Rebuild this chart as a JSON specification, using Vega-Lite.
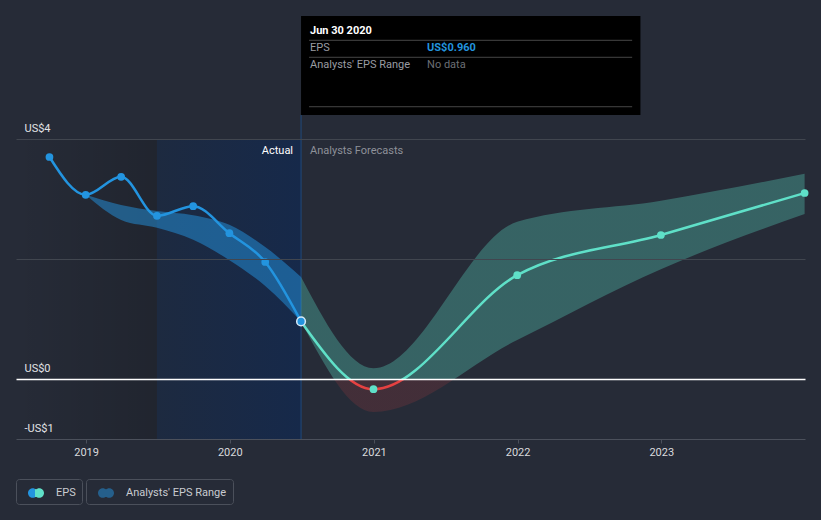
{
  "$schema": "https://vega.github.io/schema/vega-lite/v6.json",
  "width": 789,
  "height": 439,
  "autosize": "none",
  "padding": {"left": 16, "right": 16, "top": 0, "bottom": 81},
  "background": "#262b37",
  "config": {"view": {"stroke": null}, "font": "Roboto"},
  "datasets": {
    "regions": [
      {"date": "2018-07-07", "end": "2019-06-30", "zone": "past"},
      {"date": "2019-06-30", "end": "2020-06-30", "zone": "last"}
    ],
    "actual": [
      {"date": "2018-09-30", "eps": 3.70},
      {"date": "2018-12-31", "eps": 3.07},
      {"date": "2019-03-31", "eps": 3.37},
      {"date": "2019-06-30", "eps": 2.72},
      {"date": "2019-09-30", "eps": 2.88},
      {"date": "2019-12-31", "eps": 2.43},
      {"date": "2020-03-31", "eps": 1.95},
      {"date": "2020-06-30", "eps": 0.96}
    ],
    "pastRange": [
      {"date": "2018-12-31", "low": 3.07, "high": 3.07},
      {"date": "2019-03-31", "low": 2.65, "high": 2.90},
      {"date": "2019-06-30", "low": 2.52, "high": 2.80},
      {"date": "2019-09-30", "low": 2.32, "high": 2.73},
      {"date": "2019-12-31", "low": 1.98, "high": 2.57},
      {"date": "2020-03-31", "low": 1.55, "high": 2.20},
      {"date": "2020-06-30", "low": 0.96, "high": 1.70}
    ],
    "forecast": [
      {"date": "2020-06-30", "eps": 0.96, "low": 0.96, "high": 1.70},
      {"date": "2020-12-31", "eps": -0.17, "low": -0.55, "high": 0.18},
      {"date": "2021-12-31", "eps": 1.73, "low": 0.65, "high": 2.62},
      {"date": "2022-12-31", "eps": 2.40, "low": 1.83, "high": 2.97},
      {"date": "2023-12-31", "eps": 3.10, "low": 2.75, "high": 3.42}
    ],
    "tip": [
      {"date": "2020-06-30", "eps": 0.96, "title": "Jun 30 2020", "epsText": "US$0.960", "rangeText": "No data"}
    ]
  },
  "layer": [
    {
      "data": {"name": "regions"},
      "transform": [{"filter": "datum.zone === 'past'"}],
      "mark": {"type": "rect", "fill": {"gradient": "linear", "x1": 0, "y1": 0, "x2": 1, "y2": 0, "stops": [{"offset": 0, "color": "rgba(0,0,0,0)"}, {"offset": 1, "color": "rgba(0,0,0,0.15)"}]}},
      "encoding": {
        "x": {"field": "date", "type": "temporal", "scale": {"type": "utc", "domain": [{"year": 2018, "month": 7, "date": 7, "utc": true}, {"year": 2024, "month": 1, "date": 1, "utc": true}]}},
        "x2": {"field": "end"},
        "y": {"datum": -1, "type": "quantitative", "scale": {"domain": [-1, 6.3167], "nice": false, "zero": false}},
        "y2": {"datum": 4}
      }
    },
    {
      "data": {"name": "regions"},
      "transform": [{"filter": "datum.zone === 'last'"}],
      "mark": {"type": "rect", "fill": {"gradient": "linear", "x1": 0, "y1": 0, "x2": 1, "y2": 0, "stops": [{"offset": 0, "color": "#1d2a40"}, {"offset": 1, "color": "#16294a"}]}},
      "encoding": {
        "x": {"field": "date", "type": "temporal", "scale": {"type": "utc", "domain": [{"year": 2018, "month": 7, "date": 7, "utc": true}, {"year": 2024, "month": 1, "date": 1, "utc": true}]}},
        "x2": {"field": "end"},
        "y": {"datum": -1, "type": "quantitative", "scale": {"domain": [-1, 6.3167], "nice": false, "zero": false}},
        "y2": {"datum": 4}
      }
    },
    {
      "data": {"name": "tip"},
      "mark": {"type": "rule", "color": "#1f4a7c", "strokeWidth": 1},
      "encoding": {
        "x": {"field": "date", "type": "temporal", "scale": {"type": "utc", "domain": [{"year": 2018, "month": 7, "date": 7, "utc": true}, {"year": 2024, "month": 1, "date": 1, "utc": true}]}},
        "y": {"datum": -1, "type": "quantitative", "scale": {"domain": [-1, 6.3167], "nice": false, "zero": false}},
        "y2": {"datum": 4.4}
      }
    },
    {
      "data": {"name": "pastRange"},
      "mark": {"type": "area", "interpolate": "monotone", "color": "#2394df"},
      "encoding": {
        "x": {"field": "date", "type": "temporal", "scale": {"type": "utc", "domain": [{"year": 2018, "month": 7, "date": 7, "utc": true}, {"year": 2024, "month": 1, "date": 1, "utc": true}]}},
        "y": {"field": "high", "type": "quantitative", "scale": {"domain": [-1, 6.3167], "nice": false, "zero": false}},
        "y2": {"field": "low"},
        "opacity": {
          "datum": "Analysts' EPS Range",
          "type": "nominal",
          "scale": {"type": "ordinal", "range": [0.5]},
          "legend": {
            "title": null, "orient": "none", "legendX": 70, "legendY": 479,
            "strokeColor": "#4b505b", "cornerRadius": 3, "padding": 6,
            "symbolType": "M -1 0 A 0.6 0.6 0 1 0 0.2 0 A 0.6 0.6 0 1 0 -1 0 Z M -0.2 0 A 0.6 0.6 0 1 0 1 0 A 0.6 0.6 0 1 0 -0.2 0 Z",
            "symbolSize": 256, "symbolOffset": 6, "labelOffset": 12, "symbolStrokeWidth": 0,
            "symbolStrokeColor": "transparent",
            "labelFont": "Roboto", "labelFontSize": 11, "labelColor": "#c9cbd1",
            "encode": {"symbols": {"update": {
              "fill": {"value": {"gradient": "linear", "x1": 0, "y1": 0, "x2": 1, "y2": 0, "stops": [{"offset": 0, "color": "#2394df"}, {"offset": 0.42, "color": "#2394df"}, {"offset": 0.42, "color": "#5fe0c8"}, {"offset": 1, "color": "#5fe0c8"}]}},
              "stroke": {"value": "transparent"}
            }}}
          }
        }
      }
    },
    {
      "data": {"name": "forecast"},
      "mark": {"type": "area", "interpolate": "monotone", "opacity": 1, "fill": {"gradient": "linear", "x1": 0, "y1": 0, "x2": 0, "y2": 1, "stops": [{"offset": 0, "color": "rgba(93,229,204,0.3)"}, {"offset": 0.8615, "color": "rgba(93,229,204,0.3)"}, {"offset": 0.8615, "color": "rgba(230,65,65,0.15)"}, {"offset": 1, "color": "rgba(230,65,65,0.15)"}]}},
      "encoding": {
        "x": {"field": "date", "type": "temporal", "scale": {"type": "utc", "domain": [{"year": 2018, "month": 7, "date": 7, "utc": true}, {"year": 2024, "month": 1, "date": 1, "utc": true}]}},
        "y": {"field": "high", "type": "quantitative", "scale": {"domain": [-1, 6.3167], "nice": false, "zero": false}},
        "y2": {"field": "low"}
      }
    },
    {
      "data": {"name": "actual"},
      "mark": {"type": "line", "interpolate": "monotone", "strokeWidth": 2.5},
      "encoding": {
        "x": {
          "field": "date", "type": "temporal",
          "scale": {"type": "utc", "domain": [{"year": 2018, "month": 7, "date": 7, "utc": true}, {"year": 2024, "month": 1, "date": 1, "utc": true}]},
          "axis": {
            "title": null, "grid": false, "zindex": 1, "labelFlush": false,
            "values": [{"year": 2019, "month": 1, "date": 1, "utc": true}, {"year": 2020, "month": 1, "date": 1, "utc": true}, {"year": 2021, "month": 1, "date": 1, "utc": true}, {"year": 2022, "month": 1, "date": 1, "utc": true}, {"year": 2023, "month": 1, "date": 1, "utc": true}],
            "labelExpr": "utcFormat(datum.value, '%Y')",
            "domain": true, "ticks": true,
            "domainColor": "#4b505b", "domainWidth": 1, "tickColor": "#4b505b", "tickSize": 4,
            "labelColor": "#d9dadd", "labelFontSize": 11, "labelPadding": 3, "labelFont": "Roboto"
          }
        },
        "y": {
          "field": "eps", "type": "quantitative",
          "scale": {"domain": [-1, 6.3167], "nice": false, "zero": false},
          "axis": {
            "title": null, "values": [-1, 0, 2, 4], "zindex": 1,
            "labelExpr": "datum.value == 2 ? '' : (datum.value < 0 ? '-US$' + abs(datum.value) : 'US$' + datum.value)",
            "domain": false, "ticks": false, "tickSize": 0,
            "labelAlign": "left", "labelPadding": -8, "labelBaseline": "alphabetic", "labelOffset": -8,
            "labelColor": "#e2e3e6", "labelFontSize": 11, "labelFont": "Roboto", "labelOverlap": false, "labelFlush": false,
            "grid": true,
            "gridColor": {"condition": {"test": "datum.value === 0", "value": "#ffffff"}, "value": "#41464f"},
            "gridOpacity": {"condition": {"test": "datum.value === -1", "value": 0}, "value": 1},
            "gridWidth": {"condition": {"test": "datum.value === 0", "value": 1.5}, "value": 1}
          }
        },
        "stroke": {
          "datum": "EPS",
          "scale": {"range": ["#2394df"]},
          "legend": {
            "title": null, "orient": "none", "legendX": 0, "legendY": 479,
            "strokeColor": "#4b505b", "cornerRadius": 3, "padding": 6,
            "symbolType": "M -1 0 A 0.6 0.6 0 1 0 0.2 0 A 0.6 0.6 0 1 0 -1 0 Z M -0.2 0 A 0.6 0.6 0 1 0 1 0 A 0.6 0.6 0 1 0 -0.2 0 Z",
            "symbolSize": 256, "symbolOffset": 6, "labelOffset": 12, "symbolStrokeWidth": 0,
            "symbolFillColor": "#2394df", "symbolOpacity": 1,
            "labelFont": "Roboto", "labelFontSize": 11, "labelColor": "#c9cbd1",
            "encode": {"symbols": {"update": {
              "fill": {"value": {"gradient": "linear", "x1": 0, "y1": 0, "x2": 1, "y2": 0, "stops": [{"offset": 0, "color": "#2394df"}, {"offset": 0.42, "color": "#2394df"}, {"offset": 0.42, "color": "#5fe0c8"}, {"offset": 1, "color": "#5fe0c8"}]}},
              "opacity": {"value": 1}
            }}}
          }
        }
      }
    },
    {
      "data": {"name": "forecast"},
      "mark": {"type": "line", "interpolate": "monotone", "strokeWidth": 2.5, "stroke": {"gradient": "linear", "x1": 0, "y1": 0, "x2": 0, "y2": 1, "stops": [{"offset": 0, "color": "#5fe0c8"}, {"offset": 0.948, "color": "#5fe0c8"}, {"offset": 0.948, "color": "#e64141"}, {"offset": 1, "color": "#e64141"}]}},
      "encoding": {
        "x": {"field": "date", "type": "temporal", "scale": {"type": "utc", "domain": [{"year": 2018, "month": 7, "date": 7, "utc": true}, {"year": 2024, "month": 1, "date": 1, "utc": true}]}},
        "y": {"field": "eps", "type": "quantitative", "scale": {"domain": [-1, 6.3167], "nice": false, "zero": false}}
      }
    },
    {
      "data": {"name": "actual"},
      "mark": {"type": "circle", "size": 60, "color": "#2394df", "opacity": 1},
      "encoding": {
        "x": {"field": "date", "type": "temporal", "scale": {"type": "utc", "domain": [{"year": 2018, "month": 7, "date": 7, "utc": true}, {"year": 2024, "month": 1, "date": 1, "utc": true}]}},
        "y": {"field": "eps", "type": "quantitative", "scale": {"domain": [-1, 6.3167], "nice": false, "zero": false}}
      }
    },
    {
      "data": {"name": "forecast"},
      "mark": {"type": "circle", "size": 60, "color": "#5fe0c8", "opacity": 1},
      "encoding": {
        "x": {"field": "date", "type": "temporal", "scale": {"type": "utc", "domain": [{"year": 2018, "month": 7, "date": 7, "utc": true}, {"year": 2024, "month": 1, "date": 1, "utc": true}]}},
        "y": {"field": "eps", "type": "quantitative", "scale": {"domain": [-1, 6.3167], "nice": false, "zero": false}}
      }
    },
    {
      "data": {"name": "tip"},
      "mark": {"type": "circle", "size": 75, "fill": "#2394df", "stroke": "#d6e9f8", "strokeWidth": 1.5, "opacity": 1},
      "encoding": {
        "x": {"field": "date", "type": "temporal", "scale": {"type": "utc", "domain": [{"year": 2018, "month": 7, "date": 7, "utc": true}, {"year": 2024, "month": 1, "date": 1, "utc": true}]}},
        "y": {"field": "eps", "type": "quantitative", "scale": {"domain": [-1, 6.3167], "nice": false, "zero": false}}
      }
    },
    {
      "data": {"name": "tip"},
      "mark": {"type": "text", "align": "right", "baseline": "middle", "dx": -8, "fontSize": 11, "color": "#ffffff"},
      "encoding": {
        "x": {"field": "date", "type": "temporal", "scale": {"type": "utc", "domain": [{"year": 2018, "month": 7, "date": 7, "utc": true}, {"year": 2024, "month": 1, "date": 1, "utc": true}]}},
        "y": {"datum": 3.8, "type": "quantitative", "scale": {"domain": [-1, 6.3167], "nice": false, "zero": false}},
        "text": {"value": "Actual"}
      }
    },
    {
      "data": {"name": "tip"},
      "mark": {"type": "text", "align": "left", "baseline": "middle", "dx": 9, "fontSize": 11, "color": "#8e9199"},
      "encoding": {
        "x": {"field": "date", "type": "temporal", "scale": {"type": "utc", "domain": [{"year": 2018, "month": 7, "date": 7, "utc": true}, {"year": 2024, "month": 1, "date": 1, "utc": true}]}},
        "y": {"datum": 3.8, "type": "quantitative", "scale": {"domain": [-1, 6.3167], "nice": false, "zero": false}},
        "text": {"value": "Analysts Forecasts"}
      }
    },
    {
      "data": {"name": "tip"},
      "mark": {"type": "rect", "color": "#000000", "opacity": 1},
      "encoding": {
        "x": {"field": "date", "type": "temporal", "scale": {"type": "utc", "domain": [{"year": 2018, "month": 7, "date": 7, "utc": true}, {"year": 2024, "month": 1, "date": 1, "utc": true}]}},
        "x2": {"datum": {"year": 2022, "month": 11, "date": 9, "utc": true}},
        "y": {"datum": 4.4, "type": "quantitative", "scale": {"domain": [-1, 6.3167], "nice": false, "zero": false}},
        "y2": {"datum": 6.05}
      }
    },
    {
      "data": {"name": "tip"},
      "mark": {"type": "rule", "color": "#464646", "strokeWidth": 1, "xOffset": 8},
      "encoding": {
        "x": {"field": "date", "type": "temporal", "scale": {"type": "utc", "domain": [{"year": 2018, "month": 7, "date": 7, "utc": true}, {"year": 2024, "month": 1, "date": 1, "utc": true}]}},
        "x2": {"datum": {"year": 2022, "month": 10, "date": 19, "utc": true}},
        "y": {"datum": 5.645, "type": "quantitative", "scale": {"domain": [-1, 6.3167], "nice": false, "zero": false}}
      }
    },
    {
      "data": {"name": "tip"},
      "mark": {"type": "rule", "color": "#464646", "strokeWidth": 1, "xOffset": 8},
      "encoding": {
        "x": {"field": "date", "type": "temporal", "scale": {"type": "utc", "domain": [{"year": 2018, "month": 7, "date": 7, "utc": true}, {"year": 2024, "month": 1, "date": 1, "utc": true}]}},
        "x2": {"datum": {"year": 2022, "month": 10, "date": 19, "utc": true}},
        "y": {"datum": 5.362, "type": "quantitative", "scale": {"domain": [-1, 6.3167], "nice": false, "zero": false}}
      }
    },
    {
      "data": {"name": "tip"},
      "mark": {"type": "rule", "color": "#464646", "strokeWidth": 1, "xOffset": 8},
      "encoding": {
        "x": {"field": "date", "type": "temporal", "scale": {"type": "utc", "domain": [{"year": 2018, "month": 7, "date": 7, "utc": true}, {"year": 2024, "month": 1, "date": 1, "utc": true}]}},
        "x2": {"datum": {"year": 2022, "month": 10, "date": 19, "utc": true}},
        "y": {"datum": 4.538, "type": "quantitative", "scale": {"domain": [-1, 6.3167], "nice": false, "zero": false}}
      }
    },
    {
      "data": {"name": "tip"},
      "mark": {"type": "text", "align": "left", "baseline": "middle", "dx": 9, "fontSize": 11, "fontWeight": "bold", "color": "#ffffff"},
      "encoding": {
        "x": {"field": "date", "type": "temporal", "scale": {"type": "utc", "domain": [{"year": 2018, "month": 7, "date": 7, "utc": true}, {"year": 2024, "month": 1, "date": 1, "utc": true}]}},
        "y": {"datum": 5.8, "type": "quantitative", "scale": {"domain": [-1, 6.3167], "nice": false, "zero": false}},
        "text": {"field": "title"}
      }
    },
    {
      "data": {"name": "tip"},
      "mark": {"type": "text", "align": "left", "baseline": "middle", "dx": 9, "fontSize": 11, "color": "#9a9ca2"},
      "encoding": {
        "x": {"field": "date", "type": "temporal", "scale": {"type": "utc", "domain": [{"year": 2018, "month": 7, "date": 7, "utc": true}, {"year": 2024, "month": 1, "date": 1, "utc": true}]}},
        "y": {"datum": 5.512, "type": "quantitative", "scale": {"domain": [-1, 6.3167], "nice": false, "zero": false}},
        "text": {"value": "EPS"}
      }
    },
    {
      "data": {"name": "tip"},
      "mark": {"type": "text", "align": "left", "baseline": "middle", "dx": 126, "fontSize": 11, "fontWeight": "bold", "color": "#2394df"},
      "encoding": {
        "x": {"field": "date", "type": "temporal", "scale": {"type": "utc", "domain": [{"year": 2018, "month": 7, "date": 7, "utc": true}, {"year": 2024, "month": 1, "date": 1, "utc": true}]}},
        "y": {"datum": 5.512, "type": "quantitative", "scale": {"domain": [-1, 6.3167], "nice": false, "zero": false}},
        "text": {"field": "epsText"}
      }
    },
    {
      "data": {"name": "tip"},
      "mark": {"type": "text", "align": "left", "baseline": "middle", "dx": 9, "fontSize": 11, "color": "#9a9ca2"},
      "encoding": {
        "x": {"field": "date", "type": "temporal", "scale": {"type": "utc", "domain": [{"year": 2018, "month": 7, "date": 7, "utc": true}, {"year": 2024, "month": 1, "date": 1, "utc": true}]}},
        "y": {"datum": 5.233, "type": "quantitative", "scale": {"domain": [-1, 6.3167], "nice": false, "zero": false}},
        "text": {"value": "Analysts' EPS Range"}
      }
    },
    {
      "data": {"name": "tip"},
      "mark": {"type": "text", "align": "left", "baseline": "middle", "dx": 126, "fontSize": 11, "color": "#6c6f75"},
      "encoding": {
        "x": {"field": "date", "type": "temporal", "scale": {"type": "utc", "domain": [{"year": 2018, "month": 7, "date": 7, "utc": true}, {"year": 2024, "month": 1, "date": 1, "utc": true}]}},
        "y": {"datum": 5.233, "type": "quantitative", "scale": {"domain": [-1, 6.3167], "nice": false, "zero": false}},
        "text": {"field": "rangeText"}
      }
    }
  ]
}
